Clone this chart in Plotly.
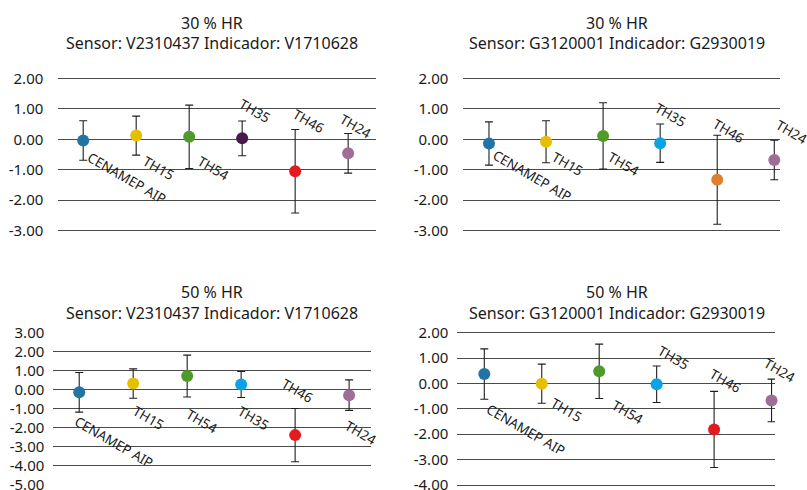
import plotly.graph_objects as go

categories = ["CENAMEP AIP", "TH15", "TH54", "TH35", "TH46", "TH24"]

# Panel 1: 30 % HR, Sensor V2310437
p1_values = [-0.04, 0.12, 0.08, 0.03, -1.05, -0.46]
p1_errors = [0.65, 0.64, 1.04, 0.57, 1.37, 0.65]
# Panel 2: 30 % HR, Sensor G3120001
p2_values = [-0.14, -0.08, 0.11, -0.13, -1.33, -0.68]
p2_errors = [0.71, 0.69, 1.09, 0.63, 1.46, 0.65]
# Panel 3: 50 % HR, Sensor V2310437
p3_values = [-0.13, 0.33, 0.72, 0.28, -2.38, -0.28]
p3_errors = [1.04, 0.77, 1.10, 0.68, 1.40, 0.80]
# Panel 4: 50 % HR, Sensor G3120001
p4_values = [0.37, -0.01, 0.48, -0.03, -1.81, -0.67]
p4_errors = [0.99, 0.77, 1.07, 0.72, 1.50, 0.84]

titles_line1 = ["30 % HR", "30 % HR", "50 % HR", "50 % HR"]
titles_line2 = ["Sensor: V2310437 Indicador: V1710628",
                "Sensor: G3120001 Indicador: G2930019",
                "Sensor: V2310437 Indicador: V1710628",
                "Sensor: G3120001 Indicador: G2930019"]

y_ticks = [
    [2, 1, 0, -1, -2, -3],
    [2, 1, 0, -1, -2, -3],
    [3, 2, 1, 0, -1, -2, -3, -4, -5],
    [2, 1, 0, -1, -2, -3, -4],
]

# colours per point
colors = [
    ["#2274A5", "#E5BF00", "#4E9A2B", "#4A1A4E", "#E31B1F", "#9E6E98"],
    ["#2274A5", "#E5BF00", "#4E9A2B", "#0AA3E6", "#E07F30", "#9E6E98"],
    ["#2274A5", "#E5BF00", "#4E9A2B", "#0AA3E6", "#E31B1F", "#9E6E98"],
    ["#2274A5", "#E5BF00", "#4E9A2B", "#0AA3E6", "#E31B1F", "#9E6E98"],
]

# label placement (category offset, y) for rotated category labels
label_pos = [
    [(0.82, -1.27), (1.42, -0.95), (2.45, -0.93), (3.24, 0.92), (4.25, 0.59), (5.13, 0.43)],
    [(0.76, -1.22), (1.38, -0.81), (2.36, -0.81), (3.18, 0.80), (4.20, 0.27), (5.30, 0.24)],
    [(0.64, -2.75), (1.29, -1.48), (2.26, -1.66), (3.22, -1.48), (4.05, -0.04), (5.22, -2.27)],
    [(0.73, -1.82), (1.43, -1.04), (2.49, -1.13), (3.30, 1.01), (4.20, 0.11), (5.13, 0.53)],
]

W, H = 807, 490
panels = [
    dict(xpx=(58.3, 375.7), ypx=(76.8, 232.2), xr=[-0.47, 5.52], yr=[-3.05, 2.05],
         tx=211.5, ty=(22.7, 43.3), so=14),
    dict(xpx=(463.3, 780.0), ypx=(76.8, 232.2), xr=[-0.45, 5.10], yr=[-3.05, 2.05],
         tx=616.7, ty=(22.7, 43.3), so=14),
    dict(xpx=(53.3, 370.7), ypx=(331.75, 485.95), xr=[-0.48, 5.40], yr=[-5.05, 3.05],
         tx=212.0, ty=(291.7, 313.3), so=8),
    dict(xpx=(457.3, 775.0), ypx=(331.4, 486.3), xr=[-0.47, 5.06], yr=[-4.05, 2.05],
         tx=617.2, ty=(291.7, 312.7), so=8),
]

values = [p1_values, p2_values, p3_values, p4_values]
errors = [p1_errors, p2_errors, p3_errors, p4_errors]

FONT = "Noto Sans"
TXT = "#1a1a1a"

fig = go.Figure()
annotations = []
layout = dict(
    width=W, height=H,
    autosize=False,
    margin=dict(l=0, r=0, t=0, b=0, pad=0, autoexpand=False),
    paper_bgcolor="white", plot_bgcolor="white",
    showlegend=False,
    font=dict(family=FONT, color=TXT),
)

for i, p in enumerate(panels):
    n = i + 1
    xa = "x" if n == 1 else f"x{n}"
    ya = "y" if n == 1 else f"y{n}"
    fig.add_trace(go.Scatter(
        x=list(range(len(categories))), y=values[i],
        mode="markers",
        marker=dict(size=12, color=colors[i], line=dict(width=0)),
        error_y=dict(type="data", array=errors[i], visible=True,
                     color="#1e1e1e", thickness=1.1, width=4),
        xaxis=xa, yaxis=ya, cliponaxis=False,
        hovertext=categories,
    ))
    layout["xaxis" if n == 1 else f"xaxis{n}"] = dict(
        domain=[p["xpx"][0] / W, p["xpx"][1] / W], range=p["xr"],
        showgrid=False, zeroline=False, showticklabels=False, showline=False,
        anchor=ya, fixedrange=True, automargin=False,
    )
    layout["yaxis" if n == 1 else f"yaxis{n}"] = dict(
        domain=[1 - p["ypx"][1] / H, 1 - p["ypx"][0] / H], range=p["yr"],
        tickvals=y_ticks[i], ticktext=[f"{v:.2f}" for v in y_ticks[i]],
        showgrid=True, gridcolor="#4a4a4a", gridwidth=1,
        zeroline=False, showline=False, ticks="",
        tickfont=dict(family=FONT, size=15, color=TXT),
        ticklabelstandoff=p["so"], ticklabeloverflow="allow",
        anchor=xa, fixedrange=True, automargin=False,
    )
    px_per_cat = (p["xpx"][1] - p["xpx"][0]) / (p["xr"][1] - p["xr"][0])
    for j, cat in enumerate(categories):
        cx, cy = label_pos[i][j]
        annotations.append(dict(
            x=j, y=cy, xref=xa, yref=ya, text=cat, showarrow=False,
            xshift=(cx - j) * px_per_cat,
            textangle=30, xanchor="center", yanchor="middle",
            font=dict(family=FONT, size=13.5, color=TXT),
        ))
    for line, ty in zip([titles_line1[i], titles_line2[i]], p["ty"]):
        annotations.append(dict(
            x=p["tx"] / W, y=1 - ty / H, xref="paper", yref="paper",
            text=line, showarrow=False, xanchor="center", yanchor="middle",
            font=dict(family=FONT, size=16, color=TXT),
        ))

layout["annotations"] = annotations
fig.update_layout(**layout)
fig.write_html(
    "out.html",
    config={"displayModeBar": False},
    post_script="document.body.style.margin='0';document.body.style.overflow='hidden';",
)
